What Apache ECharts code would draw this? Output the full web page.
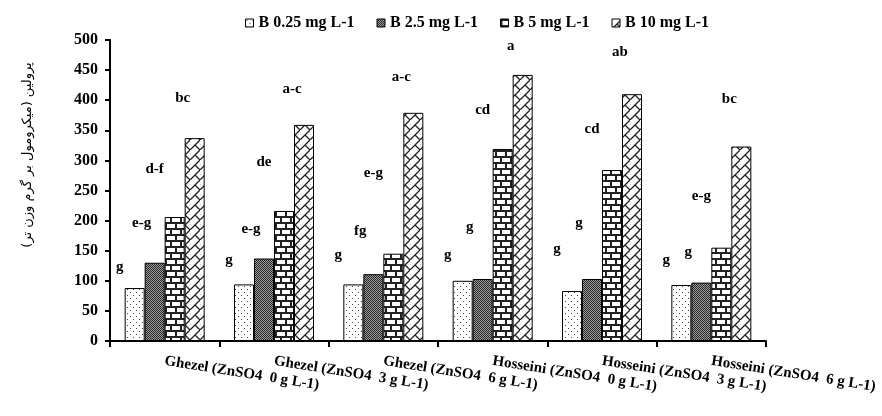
<!DOCTYPE html>
<html>
<head>
<meta charset="utf-8">
<script src="https://cdn.jsdelivr.net/npm/echarts@6/dist/echarts.min.js"></script>
<style>
html,body{margin:0;padding:0;background:#fff;}
#chart{width:882px;height:416px;}
</style>
</head>
<body>
<div id="chart"></div>
<script>
// ---- data ----
const categories = [
  'Ghezel (ZnSO4  0 g L-1)',
  'Ghezel (ZnSO4  3 g L-1)',
  'Ghezel (ZnSO4  6 g L-1)',
  'Hosseini (ZnSO4  0 g L-1)',
  'Hosseini (ZnSO4  3 g L-1)',
  'Hosseini (ZnSO4  6 g L-1)'
];
const seriesNames = ['B 0.25 mg L-1', 'B 2.5 mg L-1', 'B 5 mg L-1', 'B 10 mg L-1'];
const b025 = [88, 94, 94, 100, 83, 93];
const b25  = [130, 137, 111, 103, 103, 97];
const b5   = [206, 216, 145, 319, 284, 155];
const b10  = [337, 359, 379, 442, 410, 323];
// significance letters and the heights (y values) at which they are printed
const letters025 = ['g', 'g', 'g', 'g', 'g', 'g'];
const letters25  = ['e-g', 'e-g', 'fg', 'g', 'g', 'g'];
const letters5   = ['d-f', 'de', 'e-g', 'cd', 'cd', 'e-g'];
const letters10  = ['bc', 'a-c', 'a-c', 'a', 'ab', 'bc'];
const letterY025 = [123, 135, 143, 143, 154, 136];
const letterY25  = [196, 187, 184, 190, 196, 148];
const letterY5   = [287, 298, 279, 384, 353, 242];
const letterY10  = [404, 420, 439, 490, 480, 403];
const yTicks = { min: 0, max: 500, interval: 50 };
const yTitle = 'پرولین (میکرومول بر گرم وزن تر)';

// ---- patterns ----
function makeTile(w, h, draw) {
  const c = document.createElement('canvas');
  c.width = w; c.height = h;
  const ctx = c.getContext('2d');
  draw(ctx, w, h);
  return { image: c, repeat: 'repeat' };
}
const dots = makeTile(6, 6, (ctx, w, h) => {
  ctx.fillStyle = '#fff'; ctx.fillRect(0, 0, w, h);
  ctx.fillStyle = '#444';
  ctx.fillRect(1, 1, 1, 1);
  ctx.fillRect(4, 4, 1, 1);
});
const grey = makeTile(2, 2, (ctx) => {
  ctx.fillStyle = '#9a9a9a'; ctx.fillRect(0, 0, 2, 2);
  ctx.fillStyle = '#2a2a2a';
  ctx.fillRect(0, 0, 1, 1);
  ctx.fillRect(1, 1, 1, 1);
});
const bricks = makeTile(10, 12, (ctx, w, h) => {
  ctx.fillStyle = '#fff'; ctx.fillRect(0, 0, w, h);
  ctx.fillStyle = '#222';
  ctx.fillRect(0, 0, w, 2);
  ctx.fillRect(0, 6, w, 2);
  ctx.fillRect(0, 2, 2, 4);
  ctx.fillRect(5, 8, 2, 4);
});
const zigzag = makeTile(10, 10, (ctx, w, h) => {
  ctx.fillStyle = '#fff'; ctx.fillRect(0, 0, w, h);
  ctx.strokeStyle = '#222'; ctx.lineWidth = 1.3;
  ctx.beginPath();
  ctx.moveTo(-1, 11); ctx.lineTo(11, -1);
  ctx.moveTo(5, 5); ctx.lineTo(11, 11);
  ctx.moveTo(-1, 4); ctx.lineTo(0, 5);
  ctx.stroke();
});
const fills = [dots, grey, bricks, zigzag];

const values = [b025, b25, b5, b10];
const letterSets = [letters025, letters25, letters5, letters10];
const letterYs = [letterY025, letterY25, letterY5, letterY10];
const letterDx = [-15, -13, -20, -12];

const fontSerif = '"Liberation Serif", "Times New Roman", serif';

const series = [];
values.forEach((v, i) => {
  series.push({
    name: seriesNames[i],
    type: 'bar',
    xAxisIndex: 0,
    barWidth: 20,
    barGap: '0%',
    data: v,
    itemStyle: { color: fills[i], borderColor: '#000', borderWidth: 1 },
    emphasis: { disabled: true }
  });
});
letterYs.forEach((ly, i) => {
  series.push({
    name: 'letters' + i,
    type: 'bar',
    xAxisIndex: 1,
    barWidth: 20,
    barGap: '0%',
    silent: true,
    data: ly.map((y, k) => ({ value: y, label: { formatter: letterSets[i][k] } })),
    itemStyle: { color: 'rgba(0,0,0,0)' },
    label: {
      show: true,
      position: 'top',
      distance: 0,
      offset: [letterDx[i], 8],
      color: '#000',
      fontFamily: fontSerif,
      fontWeight: 'bold',
      fontSize: 15
    },
    emphasis: { disabled: true },
    z: 5
  });
});

const chart = echarts.init(document.getElementById('chart'), null, { renderer: 'canvas' });
chart.setOption({
  animation: false,
  backgroundColor: '#fff',
  legend: {
    data: seriesNames,
    left: 240,
    top: 10,
    icon: 'rect',
    itemWidth: 8,
    itemHeight: 8,
    itemGap: 22,
    textStyle: { fontFamily: fontSerif, fontWeight: 'bold', fontSize: 16, color: '#000' },
    itemStyle: { borderColor: '#000', borderWidth: 1 }
  },
  grid: { left: 110, right: 116, top: 40, bottom: 75, containLabel: false },
  xAxis: [{
    type: 'category',
    data: categories,
    axisLine: { lineStyle: { color: '#000', width: 2 } },
    axisTick: { show: true, length: 6, lineStyle: { color: '#000', width: 2 } },
    axisLabel: {
      rotate: -9,
      interval: 0,
      margin: 20,
      color: '#000',
      fontFamily: fontSerif,
      fontWeight: 'bold',
      fontSize: 15
    },
    splitLine: { show: false }
  }, {
    type: 'category',
    data: categories,
    show: false
  }],
  yAxis: {
    type: 'value',
    min: yTicks.min,
    max: yTicks.max,
    interval: yTicks.interval,
    axisLine: { show: true, lineStyle: { color: '#000', width: 2 } },
    axisTick: { show: true, length: 5, lineStyle: { color: '#000', width: 2 } },
    axisLabel: { margin: 12, color: '#000', fontFamily: fontSerif, fontWeight: 'bold', fontSize: 16 },
    splitLine: { show: false }
  },
  graphic: [{
    type: 'text',
    x: 28,
    y: 155,
    rotation: Math.PI / 2,
    style: {
      text: yTitle,
      fill: '#000',
      font: '13px "DejaVu Sans", "Noto Sans", sans-serif',
      textAlign: 'center',
      textVerticalAlign: 'middle'
    }
  }],
  series: series
});
</script>
</body>
</html>
